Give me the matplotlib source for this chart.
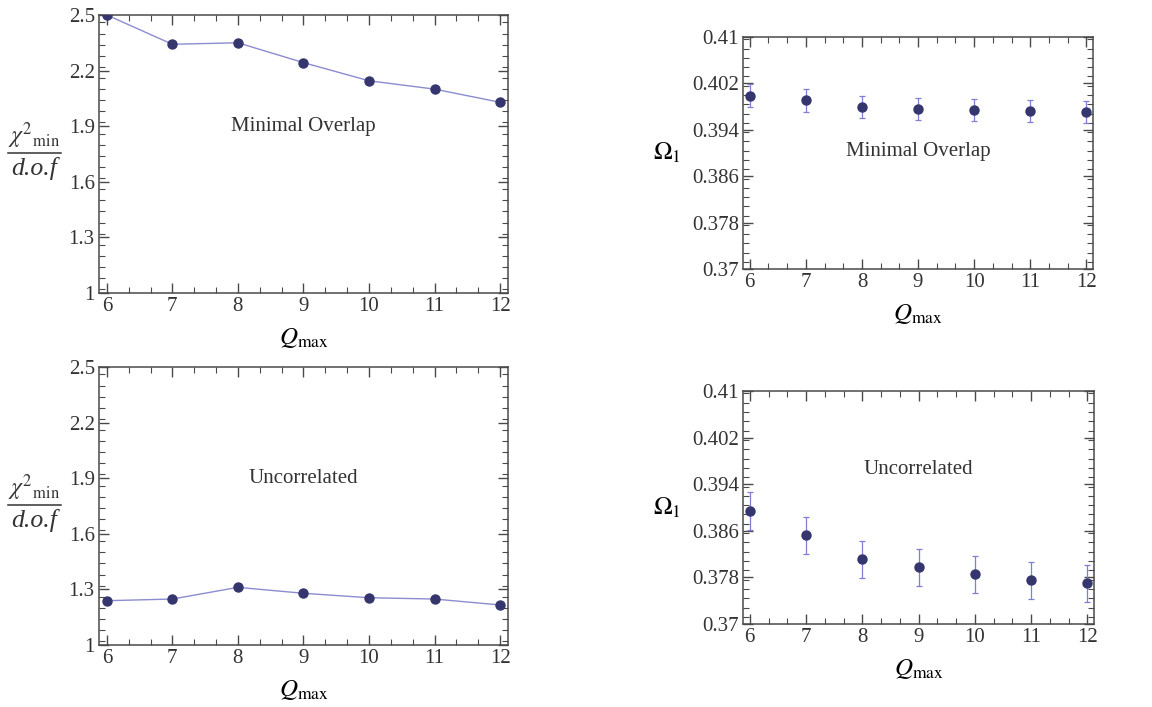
import numpy as np
import matplotlib
matplotlib.use('Agg')
import matplotlib.pyplot as plt
from matplotlib.ticker import MultipleLocator, FixedLocator
from matplotlib.transforms import offset_copy

plt.rcParams['font.family'] = ['Liberation Serif', 'DejaVu Serif']
plt.rcParams['mathtext.fontset'] = 'stix'

# fit quality and Omega_1 vs Q_max, two covariance treatments
q_max = [6, 7, 8, 9, 10, 11, 12]

chi2_overlap = [2.50, 2.342, 2.35, 2.243, 2.145, 2.10, 2.029]
chi2_uncorr = [1.239, 1.248, 1.311, 1.279, 1.255, 1.248, 1.216]

omega_overlap = [0.3999, 0.3991, 0.3979, 0.3976, 0.3975, 0.3973, 0.3970]
omega_overlap_err = [0.0020, 0.0020, 0.0019, 0.0019, 0.0019, 0.0019, 0.0019]
omega_uncorr = [0.3894, 0.3852, 0.3811, 0.3797, 0.3785, 0.3775, 0.3770]
omega_uncorr_err = [0.0032, 0.0032, 0.0032, 0.0032, 0.0032, 0.0032, 0.0032]

chi2_ticks = [1.0, 1.3, 1.6, 1.9, 2.2, 2.5]
chi2_ticklabels = ['1', '1.3', '1.6', '1.9', '2.2', '2.5']
omega_ticks = [0.37, 0.378, 0.386, 0.394, 0.402, 0.41]
omega_ticklabels = ['0.37', '0.378', '0.386', '0.394', '0.402', '0.41']

DOT = '#36366e'
LINE = '#8c8cd0'
ERR = '#7f7fd4'
FRAME = '#4a4a4a'
TXT = '#333333'

fig = plt.figure(figsize=(11.52, 7.07), dpi=100)
fig.patch.set_facecolor('white')

ax_tl = fig.add_axes([0.0859, 0.5856, 0.355, 0.3932])
ax_bl = fig.add_axes([0.0859, 0.0877, 0.355, 0.3932])
ax_tr = fig.add_axes([0.645, 0.6195, 0.3038, 0.3281])
ax_br = fig.add_axes([0.645, 0.1174, 0.3047, 0.3296])


def style_frame(ax, yticks, ylabels, ystep):
    ax.set_xlim(5.88, 12.12)
    ax.set_ylim(yticks[0], yticks[-1])
    ax.xaxis.set_major_locator(FixedLocator(q_max))
    ax.xaxis.set_minor_locator(MultipleLocator(1 / 3))
    ax.set_yticks(yticks)
    ax.set_yticklabels(ylabels)
    ax.yaxis.set_minor_locator(MultipleLocator(ystep / 5))
    ax.tick_params(which='both', direction='in', top=True, right=True,
                   color=FRAME, labelsize=15, pad=3)
    ax.tick_params(which='major', length=7, width=1)
    ax.tick_params(which='minor', length=4, width=0.8)
    for s in ax.spines.values():
        s.set_color(FRAME)
        s.set_linewidth(1.1)
    ax.set_xlabel(r'$Q_{\rm max}$', fontsize=18, labelpad=7)
    for lab in ax.get_xticklabels() + ax.get_yticklabels():
        lab.set_color(TXT)


def fraction_label(ax, x, y):
    # chi^2_min over d.o.f, stacked by hand so the dots stay tight
    up = offset_copy(ax.transAxes, fig=fig, y=1.5, units='points')
    down = offset_copy(ax.transAxes, fig=fig, y=-3, units='points')
    ax.text(x, y, r'$\chi^2{}_{\mathrm{min}}$', transform=up, ha='center',
            va='bottom', fontsize=17, color=TXT)
    ax.text(x, y, 'd.o.f', transform=down, ha='center', va='top',
            fontsize=18.5, style='italic', color=TXT)
    ax.plot([x - 0.064, x + 0.064], [y, y], transform=ax.transAxes,
            color=TXT, lw=1.1, clip_on=False)


for ax, vals, txt in [(ax_tl, chi2_overlap, 'Minimal Overlap'),
                      (ax_bl, chi2_uncorr, 'Uncorrelated')]:
    ax.plot(q_max, vals, '-', color=LINE, lw=1.0, zorder=2)
    ax.plot(q_max, vals, 'o', color=DOT, ms=6.5, zorder=3)
    style_frame(ax, chi2_ticks, chi2_ticklabels, 0.3)
    ax.text(9, 1.9, txt, ha='center', va='center', fontsize=15, color=TXT)
    fraction_label(ax, -0.158, 0.504)

for ax, vals, errs, txt, ty in [(ax_tr, omega_overlap, omega_overlap_err, 'Minimal Overlap', 0.3902),
                                (ax_br, omega_uncorr, omega_uncorr_err, 'Uncorrelated', 0.3965)]:
    ax.errorbar(q_max, vals, yerr=errs, fmt='none', ecolor=ERR, elinewidth=0.9,
                capsize=2.5, capthick=0.9, zorder=2)
    ax.plot(q_max, vals, 'o', color=DOT, ms=6.5, zorder=3)
    style_frame(ax, omega_ticks, omega_ticklabels, 0.008)
    ax.text(9, ty, txt, ha='center', va='center', fontsize=15, color=TXT)
    ax.set_ylabel(r'$\Omega_1$', fontsize=18, rotation=0, labelpad=18, va='center')

fig.savefig('out.png', dpi=100, facecolor='white')
